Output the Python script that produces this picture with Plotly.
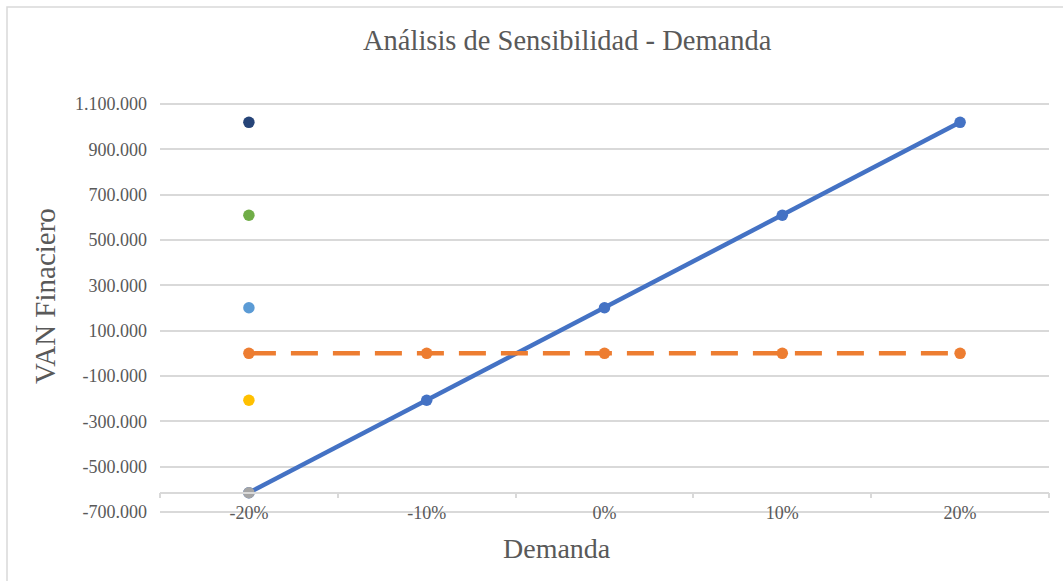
import plotly.graph_objects as go

# ---- data ----
categories = ["-20%", "-10%", "0%", "10%", "20%"]
van_values = [-615000, -207000, 201000, 609000, 1019000]
zero_values = [0, 0, 0, 0, 0]
# single-point series placed at the first category
single_values = [-615000, -207000, 201000, 609000, 1019000]
single_colors = ["#A5A5A5", "#FFC000", "#5B9BD5", "#70AD47", "#264478"]
y_tickvals = [-700000, -500000, -300000, -100000, 100000, 300000, 500000, 700000, 900000, 1100000]
y_ticktext = ["-700.000", "-500.000", "-300.000", "-100.000", "100.000", "300.000",
              "500.000", "700.000", "900.000", "1.100.000"]
title_text = "Análisis de Sensibilidad - Demanda"
x_title = "Demanda"
y_title = "VAN Finaciero"

FONT = "Liberation Serif"
TXT = "#595959"
GRID = "#D9D9D9"
W, H = 1063, 581
ML, MR, MT, MB = 160, 14, 102, 67
PW = W - ML - MR
PH = H - MT - MB
# keep the outer gridlines 2px inside the plot so that they are drawn
PAD_PX = 2
S = 1800000 / (PH - 2 * PAD_PX)
YMAX = 1100000 + PAD_PX * S
YMIN = -700000 - PAD_PX * S


def px_x(p):
    return (p - ML) / PW


def px_y(p):
    return (H - MB - p) / PH


fig = go.Figure()

fig.add_trace(go.Scatter(
    x=categories, y=van_values, mode="lines+markers",
    line=dict(color="#4472C4", width=4.5),
    marker=dict(color="#4472C4", size=11.5),
    showlegend=False, hoverinfo="x+y"))

fig.add_trace(go.Scatter(
    x=categories, y=zero_values, mode="lines+markers",
    line=dict(color="#ED7D31", width=4.5, dash="27px,15px"),
    marker=dict(color="#ED7D31", size=11.5),
    showlegend=False, hoverinfo="x+y"))

for v, c in zip(single_values, single_colors):
    fig.add_trace(go.Scatter(
        x=[categories[0]], y=[v], mode="markers",
        marker=dict(color=c, size=11.5),
        showlegend=False, hoverinfo="x+y"))

axis_pos = (min(van_values) - YMIN) / (YMAX - YMIN)

fig.update_layout(
    width=W, height=H,
    margin=dict(l=ML, r=MR, t=MT, b=MB, pad=0),
    paper_bgcolor="white", plot_bgcolor="white",
    font=dict(family=FONT, color=TXT),
    showlegend=False,
    xaxis=dict(
        type="category", categoryorder="array", categoryarray=categories,
        range=[-0.5, len(categories) - 0.5],
        anchor="free", position=axis_pos,
        showline=True, linecolor=GRID, linewidth=1.5,
        ticks="outside", ticklen=5, tickcolor=GRID, tickwidth=1.5,
        tickson="boundaries",
        showgrid=False, zeroline=False,
        tickfont=dict(family=FONT, size=18, color=TXT),
        ticklabelstandoff=4,
    ),
    yaxis=dict(
        range=[YMIN, YMAX],
        tickvals=y_tickvals, ticktext=y_ticktext,
        showgrid=True, gridcolor=GRID, gridwidth=1.5,
        zeroline=False, showline=False, ticks="",
        tickfont=dict(family=FONT, size=18, color=TXT),
        ticklabelstandoff=12,
    ),
    annotations=[
        dict(text=title_text, xref="paper", yref="paper",
             x=px_x(567), y=px_y(40), xanchor="center", yanchor="middle",
             showarrow=False, font=dict(family=FONT, size=28.5, color=TXT)),
        dict(text=x_title, xref="paper", yref="paper",
             x=px_x(556.5), y=px_y(548), xanchor="center", yanchor="middle",
             showarrow=False, font=dict(family=FONT, size=28, color=TXT)),
        dict(text=y_title, xref="paper", yref="paper", textangle=-90,
             x=px_x(45), y=px_y(296), xanchor="center", yanchor="middle",
             showarrow=False, font=dict(family=FONT, size=29, color=TXT)),
    ],
    shapes=[
        dict(type="rect", xref="paper", yref="paper",
             x0=px_x(7), x1=px_x(1080), y0=px_y(600), y1=px_y(7),
             line=dict(color=GRID, width=1.5), fillcolor="rgba(0,0,0,0)", layer="below"),
    ],
)

fig.write_html("out.html", config={"displayModeBar": False},
               post_script="document.body.style.margin='0';document.body.style.overflow='hidden';")
